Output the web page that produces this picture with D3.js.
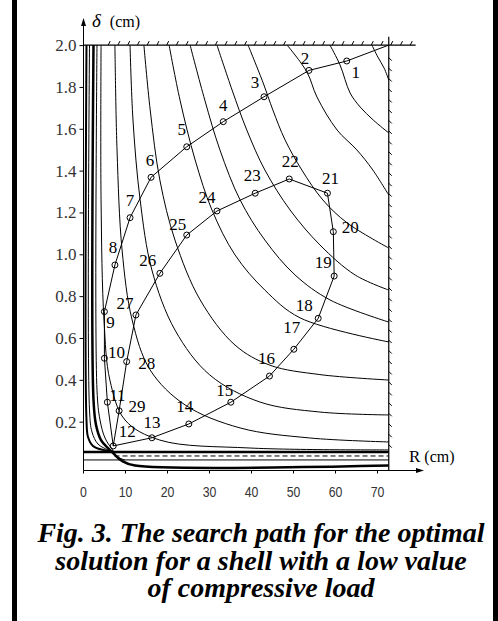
<!DOCTYPE html>
<html>
<head>
<meta charset="utf-8">
<script src="https://cdn.jsdelivr.net/npm/d3@7/dist/d3.min.js"></script>
<style>
  body { margin: 0; background: #fff; }
  svg { display: block; }
</style>
</head>
<body>
<div id="chart"></div>
<script>
// axis ticks
const rTicks = [0, 10, 20, 30, 40, 50, 60, 70];
const dTicks = [0.2, 0.4, 0.6, 0.8, 1.0, 1.2, 1.4, 1.6, 1.8, 2.0];

// search path: start corner, points 1..29, then back to the optimum
const pathLabels = ["", "1","2","3","4","5","6","7","8","9","10","11","12","13","14","15","16","17","18","19","20","21","22","23","24","25","26","27","28","29", ""];
const pathR = [72.8, 62.8, 53.8, 43.1, 33.4, 24.7, 16.2, 11.2, 7.6, 5.1, 5.1, 5.8, 7.2, 16.4, 25.2, 35.2, 44.4, 50.2, 56.0, 59.8, 59.6, 58.2, 49.1, 41.0, 31.9, 24.7, 18.3, 12.6, 10.4, 8.6, 7.2];
const pathD = [2.0, 1.924, 1.879, 1.753, 1.634, 1.514, 1.368, 1.175, 0.949, 0.726, 0.503, 0.293, 0.084, 0.123, 0.189, 0.293, 0.418, 0.546, 0.694, 0.896, 1.108, 1.292, 1.360, 1.292, 1.207, 1.092, 0.909, 0.710, 0.487, 0.252, 0.084];

// objective contours: [R, delta] pairs
const contour1 = [[68.8,2.0],[70.2,1.943],[71.7,1.890],[72.8,1.833]];
const contour2 = [[58.8,2.0],[61.2,1.905],[63.6,1.771],[66.0,1.704],[69.1,1.642],[72.8,1.580]];
const contour3 = [[48.6,2.0],[53.3,1.872],[55.7,1.752],[60.5,1.594],[65.2,1.499],[69.0,1.403],[72.8,1.283]];
const contour4 = [[39.3,2.0],[42.9,1.819],[45.2,1.690],[48.1,1.547],[52.1,1.403],[57.1,1.26],[62.9,1.15],[72.8,1.03]];
const contour5 = [[31.9,2.0],[35.5,1.785],[39.0,1.594],[43.3,1.403],[49.3,1.212],[56.4,1.045],[64.8,0.901],[72.8,0.829]];
const contour6 = [[25.5,2.0],[29.0,1.737],[32.6,1.499],[37.4,1.260],[43.3,1.068],[50.5,0.901],[58.8,0.782],[72.8,0.676]];
const contour7 = [[20.5,2.0],[23.1,1.737],[26.7,1.451],[30.7,1.212],[36.2,0.997],[43.3,0.829],[51.7,0.696],[72.8,0.581]];
const contour8 = [[14.5,2.0],[16.0,1.690],[18.3,1.355],[21.9,1.068],[27.9,0.782],[36.2,0.566],[44.5,0.470],[56.4,0.425],[72.8,0.399]];
const contour9 = [[11.2,2.0],[11.9,1.642],[13.6,1.26],[16.4,0.925],[21.9,0.638],[30.2,0.423],[42.1,0.294],[56.4,0.246],[72.8,0.232]];
const contour10 = [[7.6,2.0],[8.1,1.499],[9.3,1.021],[11.7,0.686],[16.0,0.447],[24.3,0.28],[37.4,0.17],[54.0,0.122],[72.8,0.103]];
const contour11 = [[4.3,2.0],[4.3,1.26],[5.0,0.686],[6.4,0.399],[10.0,0.208],[18.3,0.112],[39.8,0.074],[72.8,0.065]];
const contours = [contour1, contour2, contour3, contour4, contour5, contour6, contour7, contour8, contour9, contour10, contour11];

// constraint boundaries on the left and bottom
const limitA = [[0.83,2.0],[0.83,0.208],[1.19,0.127],[2.38,0.084],[4.76,0.065],[7.14,0.057]];
const limitB = [[1.55,2.0],[1.55,0.256],[2.14,0.151],[3.57,0.093],[5.95,0.065],[7.14,0.057]];
const limitC = [[2.5,2.0],[2.5,0.304],[3.1,0.184],[4.29,0.112],[5.95,0.074],[7.6,0.041],[9.3,0.012],[12.4,-0.01],[72.8,-0.01]];
const limitD = [[3.33,2.0],[3.33,0.351],[4.05,0.208],[5.24,0.122],[6.9,0.069],[8.3,0.031],[10.0,0.017]];
const bottomLevels = [0.055, 0.036, 0.017];

const Rmax = 72.8, Dmax = 2.0;

const width = 498, height = 621;
const svg = d3.select("#chart").append("svg")
    .attr("width", width).attr("height", height);

svg.append("rect").attr("width", width).attr("height", height).attr("fill", "#fff");
// page frame bars
svg.append("rect").attr("x", 12).attr("y", 0).attr("width", 5).attr("height", height).attr("fill", "#000");
svg.append("rect").attr("x", 493).attr("y", 0).attr("width", 5).attr("height", height).attr("fill", "#000");

const x = d3.scaleLinear().domain([0, 70]).range([83, 377]);
const y = d3.scaleLinear().domain([0, 2]).range([463.5, 45.1]);
const axisY = 470.5;

const line = d3.line().x(d => x(d[0])).y(d => y(d[1]));
const smooth = d3.line().x(d => x(d[0])).y(d => y(d[1])).curve(d3.curveCatmullRom.alpha(0.5));

// contours
svg.append("g").selectAll("path").data(contours).join("path")
    .attr("d", smooth).attr("fill", "none").attr("stroke", "#000").attr("stroke-width", 1);

// constraint curves
const limits = [[limitA, 2], [limitB, 1], [limitC, 2.5], [limitD, 1]];
svg.append("g").selectAll("path").data(limits).join("path")
    .attr("d", d => smooth(d[0])).attr("fill", "none").attr("stroke", "#000")
    .attr("stroke-width", d => d[1]);

// bottom bound lines
svg.append("line").attr("x1", x(0)).attr("x2", x(Rmax))
    .attr("y1", y(bottomLevels[0])).attr("y2", y(bottomLevels[0]))
    .attr("stroke", "#000").attr("stroke-width", 2.5);
svg.append("line").attr("x1", x(7.5)).attr("x2", x(Rmax))
    .attr("y1", y(bottomLevels[1])).attr("y2", y(bottomLevels[1]))
    .attr("stroke", "#000").attr("stroke-width", 1).attr("stroke-dasharray", "5,3");
svg.append("line").attr("x1", x(0)).attr("x2", x(Rmax))
    .attr("y1", y(bottomLevels[2])).attr("y2", y(bottomLevels[2]))
    .attr("stroke", "#000").attr("stroke-width", 1);

// upper bound of delta, with hatching
svg.append("line").attr("x1", x(0)).attr("x2", x(79.2))
    .attr("y1", y(Dmax)).attr("y2", y(Dmax)).attr("stroke", "#000").attr("stroke-width", 1.2);
svg.append("g").selectAll("line").data(d3.range(6, 79.5, 2.32)).join("line")
    .attr("x1", d => x(d)).attr("y1", y(Dmax))
    .attr("x2", d => x(d) + 2).attr("y2", y(Dmax) - 4)
    .attr("stroke", "#000").attr("stroke-width", 1);

// upper bound of R, with hatching
svg.append("line").attr("x1", x(Rmax)).attr("x2", x(Rmax))
    .attr("y1", y(2.04)).attr("y2", axisY).attr("stroke", "#000").attr("stroke-width", 1.2);
svg.append("g").selectAll("line").data(d3.range(1.94, 0.04, -0.05)).join("line")
    .attr("x1", x(Rmax)).attr("y1", d => y(d))
    .attr("x2", x(Rmax) + 3).attr("y2", d => y(d) + 3)
    .attr("stroke", "#000").attr("stroke-width", 1);

// search path
const pts = pathR.map((r, i) => [r, pathD[i]]);
svg.append("path").attr("d", line(pts)).attr("fill", "none").attr("stroke", "#000").attr("stroke-width", 1);
svg.append("g").selectAll("circle").data(pts.slice(1, 30)).join("circle")
    .attr("cx", d => x(d[0])).attr("cy", d => y(d[1])).attr("r", 3)
    .attr("fill", "none").attr("stroke", "#000").attr("stroke-width", 1);

// label offsets from each point (px)
const labelOffsets = {
  1:[9,12], 2:[-4,-12], 3:[-9,-14], 4:[0,-16], 5:[-5,-17], 6:[-1,-17], 7:[0,-17], 8:[-2,-17],
  9:[6,11], 10:[12,-6], 11:[10,-7], 12:[14,-14], 13:[0,-15], 14:[-4,-17], 15:[-6,-12],
  16:[-3,-18], 17:[-2,-22], 18:[-14,-13], 19:[-11,-14], 20:[17,-4], 21:[3,-15], 22:[1,-17],
  23:[-3,-18], 24:[-10,-13], 25:[-9,-11], 26:[-12,-13], 27:[-11,-11], 28:[20,2], 29:[18,-4]
};
svg.append("g").selectAll("text").data(d3.range(1, 30)).join("text")
    .attr("x", i => x(pathR[i]) + labelOffsets[i][0])
    .attr("y", i => y(pathD[i]) + labelOffsets[i][1])
    .attr("text-anchor", "middle").attr("dominant-baseline", "central")
    .attr("font-family", "Liberation Serif, serif").attr("font-size", 17)
    .attr("fill", "#000")
    .text(i => pathLabels[i]);

// y axis
const gy = svg.append("g").attr("transform", "translate(83.5,0)")
    .call(d3.axisLeft(y).tickValues(dTicks).tickSize(4).tickPadding(3).tickFormat(d3.format(".1f")));
gy.select(".domain").remove();
gy.selectAll("text").attr("font-family", "Liberation Serif, serif").attr("font-size", 17).attr("fill", "#333");
svg.append("line").attr("x1", 83.5).attr("x2", 83.5).attr("y1", 22).attr("y2", axisY).attr("stroke", "#000");
svg.append("path").attr("d", "M83.5,18 L81,26 L86,26 Z").attr("fill", "#000");

// x axis
const gx = svg.append("g").attr("transform", `translate(0,${axisY})`)
    .call(d3.axisBottom(x).tickValues(rTicks).tickSize(3).tickFormat(d3.format("d")));
gx.select(".domain").remove();
gx.selectAll("text").attr("y", 16).attr("font-family", "Liberation Sans, sans-serif")
    .attr("font-size", 15).attr("fill", "#333").attr("transform", "scale(0.82,1)");
svg.append("line").attr("x1", 83.5).attr("x2", 420).attr("y1", axisY).attr("y2", axisY).attr("stroke", "#000");
svg.append("path").attr("d", `M424,${axisY} L416,${axisY - 2.5} L416,${axisY + 2.5} Z`).attr("fill", "#000");

// axis titles
const ty = svg.append("text").attr("x", 92).attr("y", 27)
    .attr("font-family", "Liberation Serif, serif").attr("font-size", 19);
ty.append("tspan").attr("font-style", "italic").text("δ");
ty.append("tspan").attr("font-size", 16).attr("dx", 9).text("(cm)");

const tx = svg.append("text").attr("x", 409).attr("y", 462)
    .attr("font-family", "Liberation Serif, serif").attr("font-size", 17);
tx.append("tspan").text("R");
tx.append("tspan").attr("dx", 4).attr("font-size", 16).text("(cm)");

// caption
const caption = ["Fig. 3. The search path for the optimal", "solution for a shell with a low value", "of compressive load"];
svg.append("g").selectAll("text").data(caption).join("text")
    .attr("x", 261).attr("y", (d, i) => 542 + i * 27.5)
    .attr("text-anchor", "middle")
    .attr("font-family", "Liberation Serif, serif").attr("font-size", 28)
    .attr("font-weight", "bold").attr("font-style", "italic")
    .text(d => d);
</script>
</body>
</html>
